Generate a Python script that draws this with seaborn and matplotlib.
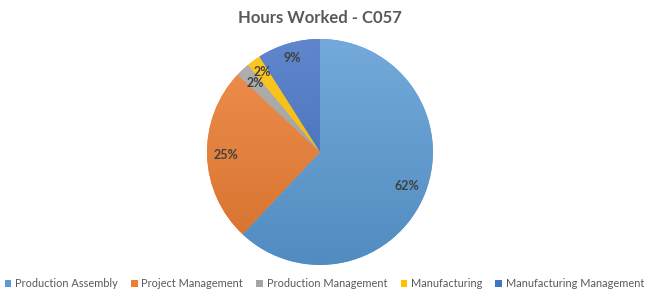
import numpy as np
import matplotlib
matplotlib.use("Agg")
import matplotlib.pyplot as plt
import matplotlib.colors as mcolors
from matplotlib.patches import Patch
import seaborn as sns

categories = ["Production Assembly", "Project Management", "Production Management",
              "Manufacturing", "Manufacturing Management"]
values = [62, 25, 2, 2, 9]
title = "Hours Worked - C057"
colors = ["#5B9BD5", "#ED7D31", "#A5A5A5", "#FFC000", "#4472C4"]
label_dist = [0.83, 0.83, 0.84, 0.87, 0.87]

sns.set_theme(style="white")
plt.rcParams["font.family"] = ["Lato", "DejaVu Sans"]

fig = plt.figure(figsize=(6.49, 3.0), dpi=100)
ax = fig.add_axes([0.319, 0.117, 0.348, 0.753])

palette = sns.color_palette(colors)
wedges, texts, autotexts = ax.pie(
    values, colors=palette, startangle=90, counterclock=False,
    autopct=lambda p: f"{p:.0f}%", pctdistance=0.85,
    textprops=dict(color="#404040", fontsize=9, fontweight="bold"),
    wedgeprops=dict(linewidth=0))

# place percentage labels at each wedge's mid angle
for w, t, d in zip(wedges, autotexts, label_dist):
    ang = np.deg2rad((w.theta1 + w.theta2) / 2)
    t.set_position((d * np.cos(ang), d * np.sin(ang)))
    t.set_zorder(10)

# vertical gradient fill (lighter top, darker bottom) clipped to each wedge
ys = np.linspace(1, 0, 256)[:, None]
for w, c in zip(wedges, palette):
    rgb = np.array(mcolors.to_rgb(c))
    top = rgb + (1 - rgb) * 0.15
    bot = rgb * 0.9
    img = top[None, None, :] * ys[..., None] + bot[None, None, :] * (1 - ys[..., None])
    img = np.repeat(img, 2, axis=1)
    im = ax.imshow(img, extent=(-1, 1, -1, 1), origin="upper", zorder=w.get_zorder() + 0.1,
                   interpolation="bilinear", aspect="auto")
    im.set_clip_path(w)

ax.set_xlim(-1.0, 1.0)
ax.set_ylim(-1.0, 1.0)
ax.set_aspect("auto")
ax.axis("off")

fig.text(0.493, 0.94, title, ha="center", va="center", fontsize=12,
         fontweight="bold", color="#595959")

handles = [Patch(facecolor=c, edgecolor="none") for c in palette]
fig.legend(handles, categories, loc="center", bbox_to_anchor=(0.5, 0.055), ncol=5,
           frameon=False, fontsize=7.9, handlelength=0.6, handleheight=0.6,
           handletextpad=0.35, columnspacing=1.2, labelcolor="#595959",
           borderaxespad=0, borderpad=0)

fig.savefig("out.png", dpi=100, facecolor="white")
